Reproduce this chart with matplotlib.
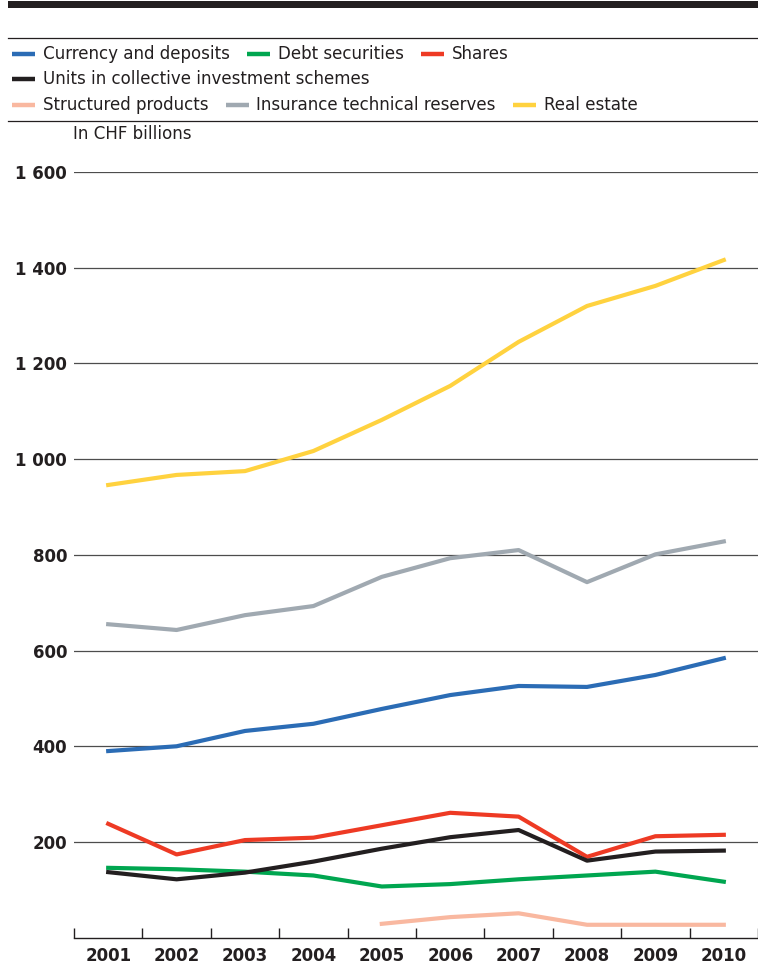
import matplotlib.pyplot as plt
import numpy as np
from matplotlib.lines import Line2D
from matplotlib.patches import Rectangle
from matplotlib.ticker import FixedLocator, FuncFormatter

years = list(range(2001, 2011))
years_structured = list(range(2005, 2011))

currency_deposits = [390, 400, 432, 447, 478, 507, 526, 524, 549, 584]
debt_securities = [146, 143, 138, 130, 107, 112, 122, 130, 138, 117]
shares = [238, 174, 204, 209, 235, 261, 253, 169, 212, 215]
collective_units = [137, 122, 136, 159, 186, 210, 225, 161, 180, 182]
structured_products = [29, 43, 51, 27, 27, 27]
insurance_reserves = [655, 643, 674, 693, 754, 793, 810, 743, 801, 828]
real_estate = [946, 967, 975, 1017, 1082, 1153, 1245, 1320, 1362, 1416]

labels = ["Currency and deposits", "Debt securities", "Shares",
          "Units in collective investment schemes",
          "Structured products", "Insurance technical reserves", "Real estate"]
colors = ["#2b6cb5", "#00a650", "#ee3a24", "#231f20",
          "#f9b8a0", "#a0a9b1", "#ffd23f"]

W, H = 758, 969
fig = plt.figure(figsize=(W / 100, H / 100), dpi=100)
fig.patch.set_facecolor("white")

cond = dict(family="DejaVu Sans", fontstretch="condensed")

# header rules
fig.add_artist(Rectangle((8 / W, 1 - 8 / H), 1 - 8 / W, 7 / H,
                         transform=fig.transFigure, color="#231f20", lw=0))
for yy in (38, 120.5):
    fig.add_artist(Line2D([8 / W, 1], [1 - yy / H, 1 - yy / H],
                          transform=fig.transFigure, color="#231f20", lw=0.9))

# legend, three rows; entries end-to-end, measured from the rendered text
fig.canvas.draw()
renderer = fig.canvas.get_renderer()
rows = [(54, [0, 1, 2]), (79, [3]), (105, [4, 5, 6])]
for ry, items in rows:
    hx = 12
    for k in items:
        fig.add_artist(Line2D([hx / W, (hx + 23) / W], [1 - ry / H, 1 - ry / H],
                              transform=fig.transFigure, color=colors[k],
                              lw=3.2, solid_capstyle="butt"))
        t = fig.text((hx + 31) / W, 1 - ry / H, labels[k], fontsize=13.3,
                     color="#231f20", va="center", ha="left", **cond)
        bb = t.get_window_extent(renderer)
        hx = bb.x1 + 17

fig.text(73 / W, 1 - 134 / H, "In CHF billions", fontsize=13.3,
         color="#231f20", va="center", ha="left", **cond)

ax = fig.add_axes([74 / W, (H - 937.7) / H, (W - 74) / W, (937.7 - 172) / H])
ax.set_xlim(2000.5, 2010.5)
ax.set_ylim(0, 1600)

for yv in range(200, 1601, 200):
    ax.axhline(yv, color="#4d4d4d", lw=0.9, zorder=1)

series = [currency_deposits, debt_securities, shares, collective_units,
          None, insurance_reserves, real_estate]
draw_order = [6, 5, 0, 1, 2, 3]
for k in draw_order:
    ax.plot(years, series[k], color=colors[k], lw=3, zorder=3,
            solid_joinstyle="round")
ax.plot(years_structured, structured_products, color=colors[4], lw=3, zorder=3)

for s in ("top", "right", "left"):
    ax.spines[s].set_visible(False)
ax.spines["bottom"].set_color("#231f20")
ax.spines["bottom"].set_linewidth(1.0)

ax.set_yticks(range(200, 1601, 200))
ax.yaxis.set_major_formatter(FuncFormatter(lambda v, p: f"{int(v):,}".replace(",", " ")))
ax.tick_params(axis="y", length=0, pad=5, labelsize=12)
for t in ax.get_yticklabels():
    t.set_fontweight("bold")
    t.set_color("#231f20")

ax.set_xticks(years)
ax.set_xticklabels([str(y) for y in years])
ax.xaxis.set_minor_locator(FixedLocator(np.arange(2000.5, 2011, 1.0)))
ax.tick_params(axis="x", which="major", length=0, pad=7, labelsize=12)
ax.tick_params(axis="x", which="minor", direction="in", length=7,
               width=1.0, color="#231f20")
for t in ax.get_xticklabels():
    t.set_fontweight("bold")
    t.set_color("#231f20")

fig.savefig("out.png", dpi=100)
